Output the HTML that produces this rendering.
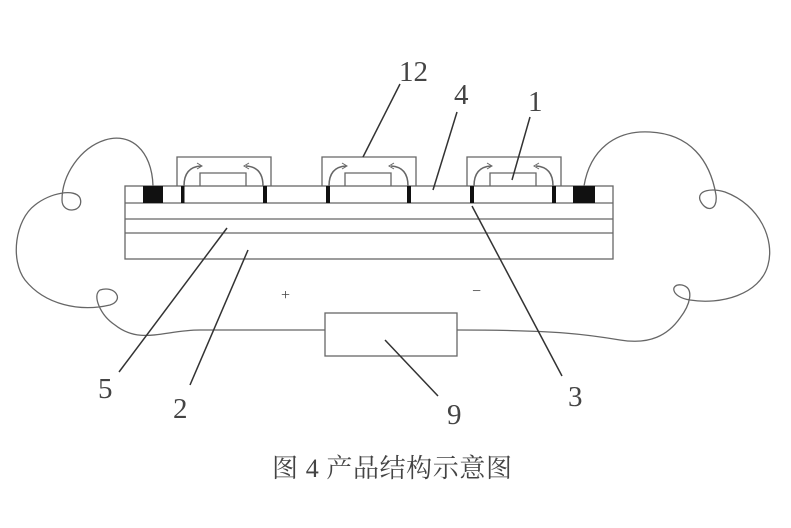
<!DOCTYPE html>
<html><head><meta charset="utf-8"><style>
html,body{margin:0;padding:0;background:#fff;}
svg{display:block;}
text{font-family:"Liberation Serif","Noto Serif CJK SC",serif;fill:#444;}
</style></head><body>
<svg width="791" height="528" viewBox="0 0 791 528" xmlns="http://www.w3.org/2000/svg">
<g fill="none" stroke="#666" stroke-width="1.3">
<rect x="125" y="186" width="488" height="73"/>
<line x1="125" y1="203" x2="613" y2="203"/>
<line x1="125" y1="219" x2="613" y2="219"/>
<line x1="125" y1="233" x2="613" y2="233"/>
<g id="enc">
<path d="M177 186 V157 H271 V186"/>
<path d="M200 186 V173 H246 V186"/>
<path d="M184 186 Q184 167 201 166" stroke-width="1.5"/>
<path d="M263 186 Q263 167 246 166" stroke-width="1.5"/>
<path d="M197 163 l5 3 l-5 3" stroke-width="1"/>
<path d="M249 163 l-5 3 l5 3" stroke-width="1"/>
</g>
<use href="#enc" x="145"/>
<use href="#enc" x="290"/>
<path d="M153 186 C152 150 130 132 105 140 C80 148 62 175 62 200 C62 215 85 212 80 198 C75 188 50 193 35 205 C15 220 10 260 25 280 C45 305 80 312 110 305 C125 300 115 285 100 290 C92 295 100 315 115 325 C140 345 165 330 200 330 H325"/>
<path d="M584 186 C590 150 615 130 650 132 C690 134 710 160 716 195 C718 212 705 212 700 200 C697 190 712 188 725 192 C760 205 775 240 768 265 C760 295 720 305 690 300 C670 297 670 283 682 285 C695 288 690 305 680 318 C668 335 650 345 620 340 C590 335 560 330 457 330"/>
<rect x="325" y="313" width="132" height="43"/>
</g>
<g fill="#111">
<rect x="143" y="186" width="20" height="17"/>
<rect x="573" y="186" width="22" height="17"/>
<rect x="181" y="186" width="3.5" height="17"/>
<rect x="263" y="186" width="4" height="17"/>
<rect x="326" y="186" width="4" height="17"/>
<rect x="407" y="186" width="4" height="17"/>
<rect x="470" y="186" width="4" height="17"/>
<rect x="552" y="186" width="4" height="17"/>
</g>
<g stroke="#333" stroke-width="1.5">
<line x1="400" y1="84" x2="363" y2="157"/>
<line x1="457" y1="112" x2="433" y2="190"/>
<line x1="530" y1="117" x2="512" y2="180"/>
<line x1="227" y1="228" x2="119" y2="372"/>
<line x1="248" y1="250" x2="190" y2="385"/>
<line x1="472" y1="206" x2="562" y2="376"/>
<line x1="385" y1="340" x2="438" y2="396"/>
</g>
<g font-size="29">
<text x="399" y="81">12</text>
<text x="454" y="104">4</text>
<text x="528" y="111">1</text>
<text x="98" y="398">5</text>
<text x="173" y="418">2</text>
<text x="447" y="424">9</text>
<text x="568" y="406">3</text>
</g>
<text x="281" y="300" font-size="16">+</text>
<text x="472" y="296" font-size="16">−</text>
<text x="272" y="477" font-size="26" textLength="240" lengthAdjust="spacing">图 4 产品结构示意图</text>
</svg>
</body></html>
